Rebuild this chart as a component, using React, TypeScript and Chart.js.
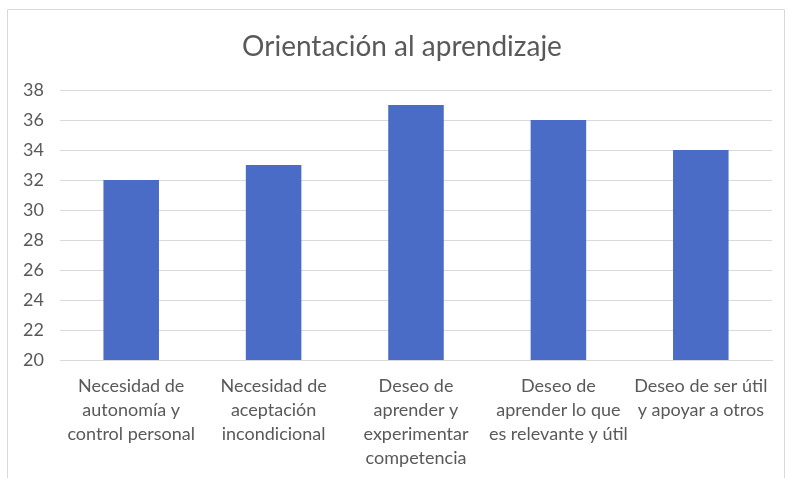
import React, { useEffect, useRef } from "react";
import { Chart, registerables } from "chart.js";

Chart.register(...registerables);

const categories: string[][] = [
  ["Necesidad de", "autonomía y", "control personal"],
  ["Necesidad de", "aceptación", "incondicional"],
  ["Deseo de", "aprender y", "experimentar", "competencia"],
  ["Deseo de", "aprender lo que", "es relevante y útil"],
  ["Deseo de ser útil", "y apoyar a otros"],
];
const values: number[] = [32, 33, 37, 36, 34];
const yMin = 20;
const yMax = 38;
const yStep = 2;
const title = "Orientación al aprendizaje";

const FONT = "Lato, 'Open Sans', sans-serif";
const TEXT = "#595959";

const framePlugin = {
  id: "frame",
  afterLayout(chart: any) {
    if (chart.titleBlock) {
      chart.titleBlock.left = 32;
    }
  },
  beforeDraw(chart: any) {
    const ctx = chart.ctx;
    ctx.save();
    ctx.fillStyle = "#ffffff";
    ctx.fillRect(0, 0, chart.width, chart.height);
    ctx.strokeStyle = "#d9d9d9";
    ctx.lineWidth = 1;
    ctx.beginPath();
    ctx.moveTo(7.5, chart.height);
    ctx.lineTo(7.5, 9.5);
    ctx.lineTo(chart.width - 4.5, 9.5);
    ctx.lineTo(chart.width - 4.5, chart.height);
    ctx.stroke();
    ctx.restore();
  },
};

export default function App() {
  const ref = useRef<HTMLCanvasElement | null>(null);
  useEffect(() => {
    if (!ref.current) return;
    const chart = new Chart(ref.current, {
      type: "bar",
      data: {
        labels: categories,
        datasets: [
          {
            data: values,
            backgroundColor: "#4A6BC6",
            categoryPercentage: 1,
            barPercentage: 0.39,
          },
        ],
      },
      plugins: [framePlugin],
      options: {
        animation: false,
        responsive: false,
        maintainAspectRatio: false,
        layout: { padding: { top: 30, right: 17, left: 0, bottom: 0 } },
        plugins: {
          legend: { display: false },
          tooltip: { enabled: false },
          title: {
            display: true,
            text: title,
            color: TEXT,
            font: { family: FONT, size: 28, weight: "normal", lineHeight: 1.2 },
            padding: { top: 0, bottom: 26.4 },
          },
        },
        scales: {
          x: {
            grid: { display: false, drawTicks: false },
            border: { display: true, color: "#d9d9d9" },
            ticks: {
              color: TEXT,
              font: { family: FONT, size: 18, lineHeight: 1.333 },
              padding: 14,
              maxRotation: 0,
              autoSkip: false,
            },
            afterFit(scale: any) {
              scale.height = 118;
            },
          },
          y: {
            min: yMin,
            max: yMax,
            grid: { color: "#d9d9d9", drawTicks: false },
            border: { display: false },
            ticks: {
              stepSize: yStep,
              color: TEXT,
              font: { family: FONT, size: 18 },
              padding: 16,
            },
            afterFit(scale: any) {
              scale.width = 60;
            },
          },
        },
      },
    });
    return () => chart.destroy();
  }, []);
  return (
    <div style={{ position: "fixed", left: 0, top: 0, width: 789, height: 478 }}>
      <canvas ref={ref} width={789} height={478} style={{ width: 789, height: 478 }} />
    </div>
  );
}
